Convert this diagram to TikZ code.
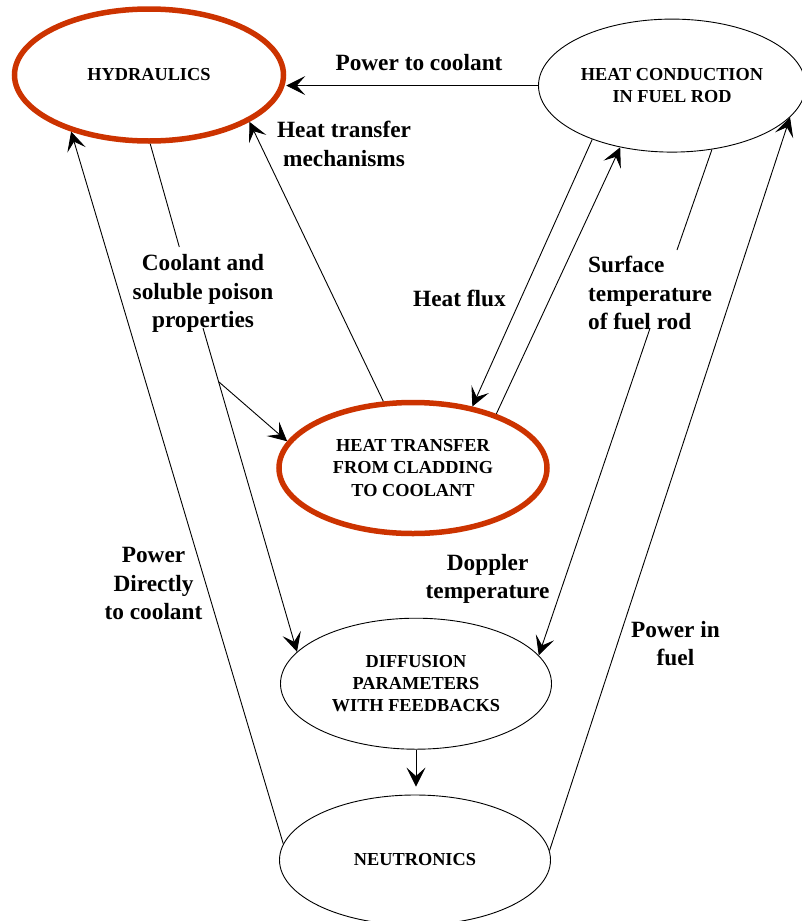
\documentclass[tikz,border=0pt]{standalone}
\usepackage{fontspec}
\setmainfont{Liberation Serif}
\usetikzlibrary{arrows.meta,shapes.geometric}
\definecolor{loopred}{RGB}{204,51,0}
\begin{document}
\begin{tikzpicture}[x=1pt,y=-1pt,
  block/.style={ellipse, draw, line width=0.9pt, align=center, inner sep=0pt,
    font=\fontsize{18.3}{22.2}\selectfont\bfseries},
  hot/.style={block, draw=loopred, line width=5.5pt},
  tag/.style={align=center, inner sep=0pt,
    font=\fontsize{23.3}{28.5}\selectfont\bfseries},
  link/.style={line width=0.9pt},
  arr/.style={link, -{Stealth[length=19pt,width=19pt,inset=8.5pt]}}
]
\useasboundingbox[fill=white] (0,0) rectangle (802,921);

% physics modules
\node[hot, minimum width=269pt, minimum height=132pt] (hyd) at (149,75) {HYDRAULICS};
\node[block, minimum width=267pt, minimum height=133pt] (hc) at (672,85.6) {HEAT CONDUCTION\\IN FUEL ROD};
\node[hot, minimum width=268pt, minimum height=131pt] (ht) at (413,468) {HEAT TRANSFER\\FROM CLADDING\\TO COOLANT};
\node[block, minimum width=271pt, minimum height=131pt] (diff) at (416,683.7) {DIFFUSION\\PARAMETERS\\WITH FEEDBACKS};
\node[block, minimum width=271pt, minimum height=130pt] (neut) at (415,860) {NEUTRONICS};

% exchanged quantities
\node[tag, anchor=base] (lpc) at (419,70) {Power to coolant};
\node[tag] (lhm) at (344,144) {Heat transfer\\mechanisms};
\node[tag] (lcs) at (203,293.7) {Coolant and\\soluble poison\\properties};
\node[tag, anchor=base] (lhf) at (459.5,306) {Heat flux};
\node[tag, align=left, anchor=west] (lst) at (588,293.3) {Surface\\temperature\\of fuel rod};
\node[tag] (ldt) at (487.6,579) {Doppler\\temperature};
\node[tag] (lpf) at (675.5,643.7) {Power in\\fuel};
\node[tag] (lpd) at (153.5,583.5) {Power\\Directly\\to coolant};

% breaks in the lines around the labels
\coordinate (cl1) at (179.3,247);
\coordinate (cl2) at (203,328);
\coordinate (clb) at (219,382);
\coordinate (sf1) at (677,250);
\coordinate (sf2) at (650,328.3);

% couplings
\draw[arr] (hc.west) -- (hc.west -| hyd.east);
\draw[arr] (ht.114) -- (hyd.-25);
\draw[link] (hyd.-89) -- (cl1);
\draw[arr] (cl2) -- (diff.165);
\draw[arr] (clb) -- (ht.168);
\draw[arr] (hc.-146) -- (ht.46);
\draw[arr] (ht.33) -- (hc.-130);
\draw[link] (hc.-58) -- (sf1);
\draw[arr] (sf2) -- (diff.13);
\draw[arr] (neut.173) -- (hyd.-144);
\draw[arr] (neut.4) -- (hc.-15);
\draw[arr, shorten >=8pt] (diff.south) -- (diff.south |- neut.north);
\end{tikzpicture}
\end{document}
